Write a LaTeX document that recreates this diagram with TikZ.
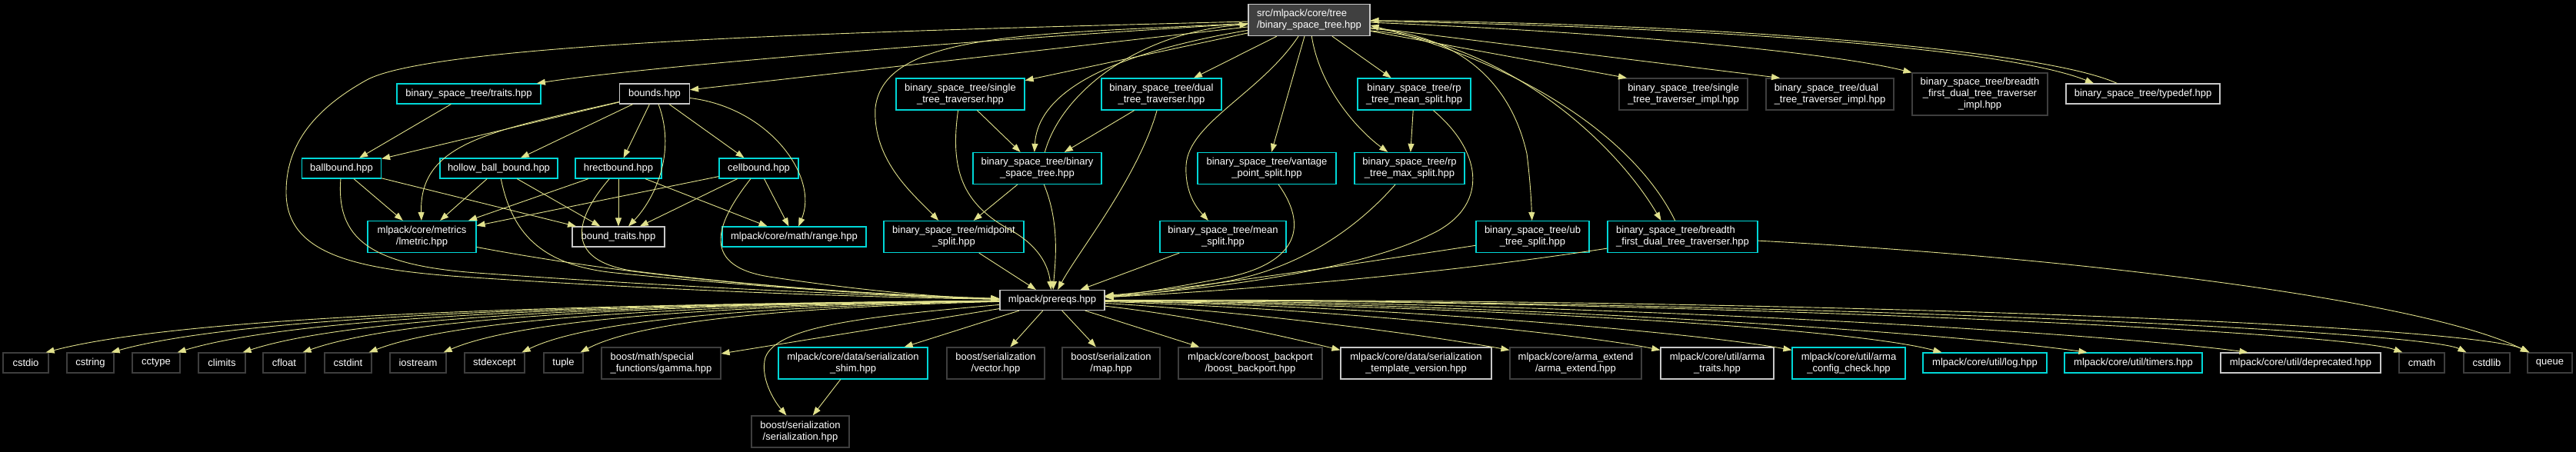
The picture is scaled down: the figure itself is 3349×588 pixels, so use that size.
\documentclass[tikz,border=0pt]{standalone}
\usepackage{fontspec}
\setmainfont{Liberation Sans}
\usetikzlibrary{arrows.meta,calc}
\definecolor{edgec}{RGB}{225,225,140}
\definecolor{cyanb}{RGB}{0,215,215}
\definecolor{lgray}{RGB}{200,200,200}
\definecolor{dgray}{RGB}{62,62,62}
\definecolor{rootfill}{RGB}{64,64,64}
\begin{document}
\begin{tikzpicture}[x=1pt,y=-1pt,
 box/.style={rectangle, draw, line width=1.2pt, text=white, inner sep=0pt, align=center, font=\fontsize{13}{15}\selectfont},
 cy/.style={box, draw=cyanb},
 lg/.style={box, draw=lgray},
 dg/.style={box, draw=dgray},
 rt/.style={box, draw=lgray, fill=rootfill},
 mw/.style={minimum width=#1pt},
 ha/.style={minimum height=26pt},
 hb/.style={minimum height=41pt},
 hc/.style={minimum height=55pt},
 edg/.style={draw=edgec, line width=0.9pt, -{Triangle[length=11pt,width=8pt]}}
]
\fill[black] (0,0) rectangle (3349,588);
\useasboundingbox (0,0) rectangle (3349,588);

% ---- nodes ----
\node[rt,mw=158,hb,align=left] (root) at (1702,26) {src/mlpack/core/tree\\/binary\_space\_tree.hpp};

\node[cy,mw=187,ha] (traits) at (609.5,122) {binary\_space\_tree/traits.hpp};
\node[lg,mw=91,ha] (bounds) at (851,122) {bounds.hpp};
\node[cy,mw=167,hb] (single) at (1248.5,122.5) {binary\_space\_tree/single\\\_tree\_traverser.hpp};
\node[cy,mw=156,hb] (dual) at (1510,122.5) {binary\_space\_tree/dual\\\_tree\_traverser.hpp};
\node[cy,mw=147,hb] (rpmean) at (1838.5,122.5) {binary\_space\_tree/rp\\\_tree\_mean\_split.hpp};
\node[dg,mw=167,hb] (simpl) at (2188.5,122.5) {binary\_space\_tree/single\\\_tree\_traverser\_impl.hpp};
\node[dg,mw=166,hb,align=left] (dimpl) at (2379,122.5) {binary\_space\_tree/dual\\\_tree\_traverser\_impl.hpp};
\node[dg,mw=176,hc] (bimpl) at (2574,122.5) {binary\_space\_tree/breadth\\\_first\_dual\_tree\_traverser\\\_impl.hpp};
\node[lg,mw=200,ha] (typedef) at (2786,122) {binary\_space\_tree/typedef.hpp};

\node[cy,mw=103,ha] (ballbound) at (444,219) {ballbound.hpp};
\node[cy,mw=153,ha] (hollow) at (648.5,219) {hollow\_ball\_bound.hpp};
\node[cy,mw=112,ha] (hrect) at (804,219) {hrectbound.hpp};
\node[cy,mw=103,ha] (cell) at (986.5,219) {cellbound.hpp};
\node[cy,mw=167,hb] (bst) at (1348.5,219) {binary\_space\_tree/binary\\\_space\_tree.hpp};
\node[cy,mw=180,hb] (vantage) at (1647,219) {binary\_space\_tree/vantage\\\_point\_split.hpp};
\node[cy,mw=143,hb] (rpmax) at (1832.5,219) {binary\_space\_tree/rp\\\_tree\_max\_split.hpp};

\node[cy,mw=141,hb] (lmetric) at (548.5,308) {mlpack/core/metrics\\/lmetric.hpp};
\node[lg,mw=120,ha] (btraits) at (804,308) {bound\_traits.hpp};
\node[cy,mw=187,ha] (range) at (1032.5,308) {mlpack/core/math/range.hpp};
\node[cy,mw=182,hb] (midpoint) at (1240,308) {binary\_space\_tree/midpoint\\\_split.hpp};
\node[cy,mw=164,hb] (mean) at (1590,308) {binary\_space\_tree/mean\\\_split.hpp};
\node[cy,mw=147,hb] (ub) at (1992.5,308) {binary\_space\_tree/ub\\\_tree\_split.hpp};
\node[cy,mw=195,hb,align=left] (bfdt) at (2187.5,308) {binary\_space\_tree/breadth\\\_first\_dual\_tree\_traverser.hpp};

\node[lg,mw=136,ha] (prereqs) at (1368,390.5) {mlpack/prereqs.hpp};

\node[dg,mw=59,ha] (cstdio) at (33.5,472) {cstdio};
\node[dg,mw=61,ha] (cstring) at (117.5,472) {cstring};
\node[dg,mw=62,ha] (cctype) at (203,472) {cctype};
\node[dg,mw=61,ha] (climits) at (288.5,472) {climits};
\node[dg,mw=55,ha] (cfloat) at (369.5,472) {cfloat};
\node[dg,mw=61,ha] (cstdint) at (452.5,472) {cstdint};
\node[dg,mw=73,ha] (iostream) at (543.5,472) {iostream};
\node[dg,mw=78,ha] (stdexcept) at (643,472) {stdexcept};
\node[dg,mw=51,ha] (tuple) at (732.5,472) {tuple};
\node[dg,mw=155,hb,align=left] (gamma) at (859.5,472.5) {boost/math/special\\\_functions/gamma.hpp};
\node[cy,mw=194,hb] (shim) at (1109,472.5) {mlpack/core/data/serialization\\\_shim.hpp};
\node[dg,mw=127,hb] (vector) at (1294.5,472.5) {boost/serialization\\/vector.hpp};
\node[dg,mw=127,hb] (map) at (1444.5,472.5) {boost/serialization\\/map.hpp};
\node[dg,mw=187,hb] (backport) at (1625.5,472.5) {mlpack/core/boost\_backport\\/boost\_backport.hpp};
\node[lg,mw=196,hb] (tversion) at (1841,472.5) {mlpack/core/data/serialization\\\_template\_version.hpp};
\node[dg,mw=171,hb] (aextend) at (2048.5,472.5) {mlpack/core/arma\_extend\\/arma\_extend.hpp};
\node[lg,mw=147,hb] (atraits) at (2232.5,472.5) {mlpack/core/util/arma\\\_traits.hpp};
\node[cy,mw=147,hb] (aconfig) at (2403.5,472.5) {mlpack/core/util/arma\\\_config\_check.hpp};
\node[cy,mw=161,ha] (log) at (2580.5,472) {mlpack/core/util/log.hpp};
\node[cy,mw=179,ha] (timers) at (2773.5,472) {mlpack/core/util/timers.hpp};
\node[lg,mw=208,ha] (deprecated) at (2991,472) {mlpack/core/util/deprecated.hpp};
\node[dg,mw=59,ha] (cmath) at (3148.5,472) {cmath};
\node[dg,mw=60,ha] (cstdlib) at (3233,472) {cstdlib};
\node[dg,mw=58,ha] (queue) at (3315,472) {queue};

\node[dg,mw=127,hb] (ser) at (1040.5,561.5) {boost/serialization\\/serialization.hpp};

% ---- edges from root ----
\draw[edg] (root) .. controls (1150,40) and (560,55) .. (475,105) .. controls (395,150) and (372,200) .. (372,250) .. controls (372,330) and (460,350) .. (600,360) .. controls (900,380) and (1150,387) .. (prereqs);
\draw[edg] (root) .. controls (1300,50) and (850,85) .. (traits);
\draw[edg] (root) -- (bounds);
\draw[edg] (root) -- (single);
\draw[edg] (root) .. controls (1350,45) and (1150,40) .. (1138,140) .. controls (1134,210) and (1190,255) .. (midpoint);
\draw[edg] (root) .. controls (1470,65) and (1350,110) .. (bst.100);
\draw[edg] (bst.65) .. controls (1380,120) and (1480,42) .. (root);
\draw[edg] (root) -- (dual);
\draw[edg] (root) .. controls (1640,120) and (1545,160) .. (1542,215) .. controls (1540,255) and (1560,275) .. (mean);
\draw[edg] (root) -- (vantage);
\draw[edg] (root) .. controls (1715,110) and (1760,165) .. (rpmax);
\draw[edg] (root) -- (rpmean);
\draw[edg] (root.352) .. controls (1900,45) and (1965,110) .. (1985,200) .. controls (1990,240) and (1991,268) .. (ub);
\draw[edg] (root.350) .. controls (1940,50) and (2090,170) .. (bfdt.143);
\draw[edg] (bfdt.115) .. controls (2130,190) and (2000,90) .. (root.355);
\draw[edg] (root) -- (simpl.164);
\draw[edg] (root) -- (dimpl.162);
\draw[edg] (root) .. controls (2100,42) and (2380,68) .. (bimpl.north west);
\draw[edg] (root) .. controls (2200,35) and (2600,60) .. (typedef.168);
\draw[edg] (typedef.158) .. controls (2650,62) and (2200,30) .. (root);

% ---- bounds family ----
\draw[edg] (traits) -- (ballbound);
\draw[edg] (bounds) -- (ballbound);
\draw[edg] (bounds) .. controls (640,170) and (545,185) .. (lmetric);
\draw[edg] (bounds) -- (hollow);
\draw[edg] (bounds) -- (hrect);
\draw[edg] (bounds) .. controls (880,200) and (850,260) .. (btraits);
\draw[edg] (bounds) -- (cell);
\draw[edg] (bounds) .. controls (1000,140) and (1065,230) .. (range);

\draw[edg] (ballbound) -- (lmetric);
\draw[edg] (ballbound) -- (btraits);
\draw[edg] (ballbound) .. controls (437,310) and (480,345) .. (620,355) .. controls (900,375) and (1150,385) .. (prereqs);
\draw[edg] (hollow) -- (lmetric);
\draw[edg] (hollow) -- (btraits);
\draw[edg] (hollow) .. controls (665,300) and (700,345) .. (800,355) .. controls (1000,375) and (1200,387) .. (prereqs);
\draw[edg] (hrect) -- (lmetric);
\draw[edg] (hrect) -- (btraits);
\draw[edg] (hrect) .. controls (760,270) and (720,335) .. (820,352) .. controls (1000,375) and (1200,387) .. (prereqs);
\draw[edg] (hrect) -- (range);
\draw[edg] (cell) -- (lmetric);
\draw[edg] (cell) -- (btraits);
\draw[edg] (cell) .. controls (935,285) and (905,345) .. (1000,360) .. controls (1100,375) and (1200,386) .. (prereqs);
\draw[edg] (cell) -- (range);
\draw[edg] (lmetric) .. controls (850,365) and (1100,382) .. (prereqs);

% ---- tree family ----
\draw[edg] (single) -- (bst);
\draw[edg] (single) .. controls (1235,220) and (1250,265) .. (1315,300) .. controls (1350,320) and (1363,345) .. (prereqs);
\draw[edg] (dual) -- (bst);
\draw[edg] (dual) .. controls (1480,230) and (1400,330) .. (prereqs);
\draw[edg] (bst) -- (midpoint);
\draw[edg] (bst) .. controls (1378,290) and (1372,340) .. (prereqs);
\draw[edg] (midpoint) -- (prereqs);
\draw[edg] (mean) -- (prereqs);
\draw[edg] (vantage) .. controls (1705,300) and (1680,345) .. (1590,362) .. controls (1520,375) and (1480,382) .. (prereqs);
\draw[edg] (rpmax) .. controls (1770,290) and (1700,345) .. (1600,365) .. controls (1530,378) and (1480,384) .. (prereqs);
\draw[edg] (rpmean) -- (rpmax);
\draw[edg] (rpmean) .. controls (1930,200) and (1935,270) .. (1860,305) .. controls (1760,355) and (1550,378) .. (prereqs);
\draw[edg] (ub) .. controls (1750,345) and (1550,375) .. (prereqs);
\draw[edg] (bfdt) .. controls (1850,360) and (1600,378) .. (prereqs);
\draw[edg] (bfdt) .. controls (2700,335) and (3150,390) .. (queue);

% ---- prereqs to bottom row ----
\draw[edg] (prereqs) .. controls (742,396) and (245,410) .. ($(cstdio.north east)+(-4,0)$);
\draw[edg] (prereqs) .. controls (780,396) and (317,410) .. ($(cstring.north east)+(-4,0)$);
\draw[edg] (prereqs) .. controls (818,396) and (390,410) .. ($(cctype.north east)+(-4,0)$);
\draw[edg] (prereqs) .. controls (857,396) and (463,410) .. ($(climits.north east)+(-4,0)$);
\draw[edg] (prereqs) .. controls (892,396) and (529,410) .. ($(cfloat.north east)+(-4,0)$);
\draw[edg] (prereqs) .. controls (931,397) and (602,411) .. ($(cstdint.north east)+(-4,0)$);
\draw[edg] (prereqs) .. controls (974,397) and (685,412) .. ($(iostream.north east)+(-4,0)$);
\draw[edg] (prereqs) .. controls (1020,398) and (771,413) .. ($(stdexcept.north east)+(-4,0)$);
\draw[edg] (prereqs) .. controls (1054,399) and (836,415) .. ($(tuple.north east)+(-4,0)$);
\draw[edg] (prereqs) -- (gamma);
\draw[edg] (prereqs) -- (shim);
\draw[edg] (prereqs) -- (vector);
\draw[edg] (prereqs) -- (map);
\draw[edg] (prereqs) -- (backport);
\draw[edg] (prereqs) .. controls (1560,412) and (1680,440) .. ($(tversion.north west)+(0,4)$);
\draw[edg] (prereqs) .. controls (1620,405) and (1850,435) .. ($(aextend.north west)+(0,4)$);
\draw[edg] (prereqs) .. controls (1700,400) and (2050,433) .. ($(atraits.north west)+(0,4)$);
\draw[edg] (prereqs) .. controls (1800,398) and (2200,432) .. ($(aconfig.north west)+(0,4)$);
\draw[edg] (prereqs) .. controls (1900,398) and (2400,425) .. ($(log.north west)+(25,0)$);
\draw[edg] (prereqs) .. controls (2000,395) and (2550,435) .. ($(timers.north west)+(30,0)$);
\draw[edg] (prereqs) .. controls (2100,393) and (2750,435) .. ($(deprecated.north west)+(36,0)$);
\draw[edg] (prereqs) .. controls (2200,390) and (3050,432) .. ($(cmath.north west)+(5,0)$);
\draw[edg] (prereqs) .. controls (2300,390) and (3150,430) .. ($(cstdlib.north west)+(4,0)$);
\draw[edg] (prereqs) .. controls (2400,388) and (3220,425) .. ($(queue.north west)+(3,0)$);
\draw[edg] (prereqs) .. controls (1120,412) and (1010,425) .. (995,465) .. controls (988,490) and (1005,520) .. (ser);
\draw[edg] (shim) -- (ser);
\end{tikzpicture}
\end{document}
